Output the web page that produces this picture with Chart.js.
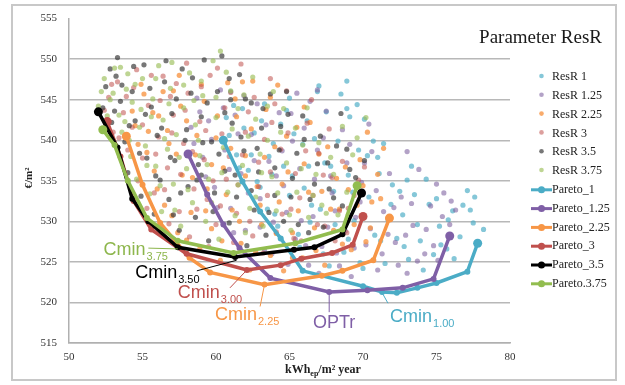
<!DOCTYPE html>
<html>
<head>
<meta charset="utf-8">
<script src="https://cdn.jsdelivr.net/npm/chart.js@4.4.0/dist/chart.umd.min.js"></script>
<style>
  html, body { margin: 0; padding: 0; background: #fff; }
</style>
</head>
<body>
<canvas id="chart" width="625" height="385"></canvas>
<script>
// axis ticks
const xTicks = [50, 55, 60, 65, 70, 75, 80];
const yTicks = [515, 520, 525, 530, 535, 540, 545, 550, 555];

// scatter clouds, [kWh_ep/m2 year, EUR/m2]
const resR1 = [[60.7,542.8],[61.0,546.0],[61.4,538.2],[61.8,543.9],[62.2,536.3],[62.6,540.9],[63.0,534.2],[63.3,544.5],[63.6,538.0],[64.0,530.9],[64.4,542.0],[64.8,543.7],[65.0,545.2],[65.2,535.6],[65.6,528.4],[65.9,539.5],[66.2,542.4],[66.5,532.0],[66.9,546.0],[67.0,546.7],[67.3,526.0],[67.5,543.5],[67.8,536.8],[68.1,529.6],[68.5,545.7],[68.9,547.3],[68.9,543.9],[69.1,542.9],[69.3,533.6],[69.6,544.4],[69.8,524.9],[70.1,542.6],[70.3,538.1],[70.7,539.9],[71.0,537.9],[71.4,539.6],[71.7,530.2],[72.0,534.5],[72.5,533.7],[72.8,526.9],[73.0,535.1],[73.3,536.8],[73.7,529.6],[74.1,524.0],[74.5,532.1],[75.0,532.8],[75.3,527.1],[75.8,530.2],[76.2,525.4],[76.8,532.0],[77.1,533.8],[77.5,529.8],[78.2,529.0],[71.2,527.6],[69.0,527.8],[66.3,536.8],[63.8,535.8],
  [60.9,540.6],[61.2,544.3],[61.6,536.6],[61.9,541.5],[62.4,538.2],[62.8,534.9],[63.1,542.4],[63.5,531.5],[63.9,539.6],[64.2,529.4],[64.6,536.8],[65.0,533.2],[65.3,540.8],[65.7,526.8],[66.0,534.1],[66.4,529.9],[66.7,540.2],[67.1,531.5],[67.4,537.2],[67.7,524.5],[68.0,533.7],[68.3,539.9],[68.7,526.2],[69.0,535.7],[69.4,530.1],[69.7,538.8],[70.0,524.2],[70.4,533.0],[70.8,528.3],[71.1,535.9],[71.5,524.8],[71.9,532.1],[72.3,527.9],[72.7,530.8],[73.1,525.3],[73.5,533.3],[73.9,527.6],[74.3,535.2],[74.8,525.9],[75.2,529.4],[75.7,526.6],[76.1,531.3],[76.6,528.1],[77.3,531.4],[77.6,533.0]];
const resR125 = [[58.3,541.6],[58.7,545.2],[59.1,537.9],[59.5,542.4],[59.9,534.2],[60.3,546.2],[60.6,538.8],[61.0,531.6],[61.3,543.1],[61.7,535.9],[62.0,528.9],[62.4,540.7],[62.8,544.5],[63.0,532.8],[63.3,526.5],[63.6,537.4],[63.9,529.9],[64.3,543.4],[64.6,534.4],[64.9,524.7],[65.2,539.9],[65.5,545.8],[65.8,530.1],[66.1,527.0],[66.4,544.8],[66.7,535.2],[67.0,523.6],[67.3,540.3],[67.6,529.3],[67.9,533.5],[68.2,526.1],[68.6,541.3],[68.9,537.2],[69.2,523.2],[69.5,530.5],[69.9,534.8],[70.2,527.1],[70.6,538.6],[71.0,524.0],[71.4,531.2],[71.8,535.9],[72.2,527.4],[72.6,533.0],[73.0,523.6],[73.4,529.5],[73.8,536.4],[74.2,526.0],[74.6,531.9],[75.1,525.2],[75.5,533.5],[75.9,529.6],[76.3,531.4],[73.0,538.6],[70.4,542.0],[66.9,546.2],
  [58.5,539.6],[58.9,543.5],[59.3,535.5],[59.7,540.1],[60.1,531.7],[60.5,544.0],[60.9,536.4],[61.2,528.6],[61.5,540.8],[61.9,545.5],[62.2,533.5],[62.6,537.5],[63.0,529.3],[63.4,541.9],[63.8,526.0],[64.1,535.6],[64.5,538.7],[64.8,531.1],[65.1,543.3],[65.4,527.8],[65.7,536.5],[66.0,541.5],[66.3,524.6],[66.6,530.6],[66.9,538.8],[67.2,526.9],[67.5,543.6],[67.8,535.6],[68.1,531.3],[68.4,524.5],[68.8,528.8],[69.1,539.5],[69.4,526.7],[69.8,532.4],[70.1,537.2],[70.5,529.1],[70.9,533.8],[71.3,526.0],[71.7,528.4],[72.1,531.7],[72.4,524.6],[72.9,528.3],[73.3,532.2],[73.7,525.1],[74.3,529.0],[74.8,527.0],[75.4,530.6],[75.0,534.6],[76.0,532.5]];
const resR225 = [[54.3,543.6],[54.7,539.5],[55.1,545.7],[55.4,541.1],[55.8,536.2],[56.1,543.0],[56.5,532.0],[56.8,539.6],[57.1,546.1],[57.4,528.6],[57.7,535.7],[58.0,542.4],[58.3,531.1],[58.6,538.2],[58.9,526.6],[59.2,544.8],[59.4,534.0],[59.7,529.1],[60.0,540.3],[60.3,525.2],[60.5,536.6],[60.8,547.1],[61.1,531.4],[61.4,542.9],[61.7,527.3],[62.0,538.1],[62.3,524.0],[62.5,547.3],[62.8,534.3],[63.1,529.6],[63.4,543.8],[63.7,525.8],[64.0,539.2],[64.3,532.4],[64.6,523.9],[64.9,536.1],[65.2,528.6],[65.5,541.6],[65.9,525.5],[66.3,533.6],[66.7,529.2],[67.0,538.3],[67.4,524.6],[67.8,531.5],[68.2,535.3],[68.6,527.2],[69.0,533.9],[69.4,529.6],[69.8,537.6],[70.2,527.5],[70.6,532.4],[71.0,535.8],[71.4,539.0],[70.3,541.0],[66.0,544.1],[57.5,548.0],
  [54.5,541.8],[54.9,546.9],[55.3,538.5],[55.7,543.4],[56.0,534.0],[56.4,546.0],[56.7,541.2],[57.0,530.7],[57.3,538.3],[57.6,544.2],[58.0,527.7],[58.4,535.4],[58.7,540.6],[59.0,546.9],[59.3,531.3],[59.7,537.0],[60.1,543.0],[60.4,527.6],[60.7,533.3],[61.0,539.0],[61.3,545.1],[61.6,530.0],[62.0,535.6],[62.4,541.4],[62.7,526.2],[63.0,532.0],[63.3,537.9],[63.7,545.3],[64.1,528.5],[64.5,534.6],[64.8,540.5],[65.2,525.5],[65.6,531.3],[66.0,537.1],[66.4,542.2],[66.8,526.4],[67.2,533.7],[67.6,539.2],[68.0,528.9],[68.4,531.5],[68.8,536.7],[69.2,526.5],[69.6,532.0],[70.0,534.4],[70.5,529.2],[71.2,532.8],[61.8,547.2],[64.2,546.8]];
const resR3 = [[52.7,545.3],[53.0,541.0],[53.3,547.2],[53.7,543.4],[54.0,538.8],[54.4,546.5],[54.7,535.0],[55.0,541.9],[55.3,531.6],[55.6,548.0],[55.9,538.3],[56.2,544.9],[56.5,533.9],[56.8,529.7],[57.0,540.9],[57.3,547.0],[57.6,535.8],[57.9,543.7],[58.2,528.1],[58.4,538.6],[58.7,531.5],[59.0,546.6],[59.3,541.2],[59.5,526.9],[59.8,535.0],[60.1,548.9],[60.3,531.9],[60.6,544.0],[60.9,538.0],[61.2,527.4],[61.5,534.5],[61.7,549.4],[62.0,541.0],[62.3,530.0],[62.6,545.3],[62.9,537.3],[63.2,526.1],[63.5,533.2],[63.8,542.2],[64.1,528.7],[64.4,538.9],[64.8,546.1],[65.1,531.5],[65.4,535.9],[65.8,527.6],[66.2,542.1],[66.6,533.2],[67.0,538.4],[67.4,529.4],[67.9,535.4],[68.4,531.3],[68.9,528.6],[69.4,533.2],[70.1,536.7],[58.0,549.5],[63.7,547.6],
  [52.4,543.7],[52.9,546.9],[53.4,540.3],[53.9,545.4],[54.3,541.6],[54.6,548.7],[55.0,537.8],[55.4,544.3],[55.8,533.5],[56.1,540.4],[56.4,547.9],[56.7,536.6],[57.1,543.1],[57.5,531.2],[57.8,539.6],[58.1,545.8],[58.5,534.0],[58.9,542.3],[59.2,537.6],[59.6,548.0],[60.0,529.6],[60.4,540.8],[60.7,535.2],[61.0,545.9],[61.4,531.0],[61.8,538.2],[62.2,543.5],[62.5,528.2],[62.9,534.3],[63.3,540.1],[63.7,536.1],[64.0,544.5],[64.5,530.9],[64.9,540.9],[65.3,527.9],[65.7,532.9],[66.1,538.7],[66.5,545.0],[66.9,529.6],[67.3,535.7],[67.7,541.4],[68.1,527.6],[68.6,537.4],[69.0,531.6],[69.7,535.1],[59.4,532.7],[56.9,545.4]];
const resR35 = [[52.5,546.6],[52.9,542.2],[53.2,547.9],[53.5,544.8],[53.8,539.8],[54.0,536.0],[54.3,546.0],[54.5,542.4],[54.9,533.1],[55.1,549.3],[55.3,537.8],[55.6,544.1],[55.8,530.9],[56.0,540.6],[56.2,535.1],[56.5,547.2],[56.8,532.7],[57.0,543.3],[57.2,537.5],[57.5,528.9],[57.7,548.8],[57.9,540.0],[58.1,534.3],[58.3,545.8],[58.6,530.5],[58.8,537.0],[59.0,542.9],[59.2,549.9],[59.5,527.6],[59.7,539.8],[59.9,533.5],[60.1,546.0],[60.4,550.4],[60.6,536.2],[60.9,529.8],[61.1,542.1],[61.4,533.0],[61.6,548.1],[61.9,538.7],[62.1,527.0],[62.4,544.6],[62.6,531.4],[62.9,536.1],[63.1,541.5],[63.4,528.3],[63.7,545.7],[64.0,533.2],[64.3,538.8],[64.6,530.0],[64.9,543.2],[65.2,535.3],[65.6,529.6],[66.0,540.1],[66.4,532.7],[66.9,537.1],[67.3,529.3],[67.7,534.0],[68.2,539.3],[68.6,531.9],[69.1,536.4],[53.3,550.2],[61.0,545.0],
  [52.3,544.0],[52.8,548.8],[53.1,543.6],[53.6,546.8],[54.1,541.8],[54.4,549.1],[54.8,538.4],[55.2,543.2],[55.5,546.4],[55.9,535.6],[56.3,541.5],[56.6,549.8],[56.9,537.9],[57.3,545.1],[57.6,533.5],[58.0,541.3],[58.4,547.7],[58.7,535.1],[59.1,539.7],[59.4,544.6],[59.8,531.2],[60.2,538.3],[60.6,543.4],[60.9,547.6],[61.3,535.7],[61.7,540.4],[62.0,545.1],[62.4,533.8],[62.8,539.0],[63.2,543.9],[63.6,531.1],[64.0,536.6],[64.4,541.7],[64.8,546.0],[65.1,533.0],[65.5,538.4],[65.9,543.0],[66.3,528.6],[66.7,534.6],[67.1,540.5],[67.6,537.2],[68.0,532.9],[68.5,543.3],[68.9,538.9],[69.5,535.4],[70.1,537.5],[59.0,535.7],[57.1,530.8]];
const resR375 = [[52.0,544.2],[52.4,547.6],[52.8,545.0],[53.1,548.9],[53.4,543.1],[53.6,541.0],[53.9,546.3],[54.2,538.0],[54.3,544.7],[54.6,535.2],[54.8,541.6],[55.0,547.6],[55.2,539.3],[55.5,533.4],[55.7,545.1],[55.9,536.8],[56.1,549.2],[56.3,531.2],[56.4,542.5],[56.7,538.9],[56.9,546.4],[57.1,534.6],[57.3,540.7],[57.6,529.4],[57.8,544.0],[58.0,536.5],[58.2,548.3],[58.4,532.3],[58.6,541.9],[58.9,538.1],[59.1,545.5],[59.3,530.0],[59.5,535.2],[59.8,549.8],[60.0,542.8],[60.2,527.8],[60.3,551.0],[60.5,539.1],[60.8,533.6],[61.0,546.1],[61.3,530.7],[61.5,543.9],[61.8,536.9],[62.0,528.6],[62.2,540.5],[62.5,547.8],[62.7,533.0],[63.0,538.3],[63.2,529.4],[63.5,544.2],[63.8,535.5],[64.1,531.3],[64.4,541.0],[64.8,537.2],[65.1,528.9],[65.5,533.6],[65.9,539.4],[66.3,530.5],[66.8,535.8],[67.2,532.0],[67.8,537.9],[68.3,530.8],[68.9,533.6],[69.3,538.2],[57.0,549.6],[54.0,548.2],
  [52.2,546.0],[52.6,543.0],[53.0,545.8],[53.5,549.0],[53.8,542.3],[54.1,540.0],[54.5,546.9],[54.9,543.8],[55.3,536.9],[55.6,542.9],[55.9,547.6],[56.2,534.4],[56.5,540.2],[56.8,544.5],[57.2,531.4],[57.5,537.9],[57.8,546.8],[58.1,533.9],[58.5,544.9],[58.8,540.0],[59.0,547.3],[59.4,537.0],[59.7,532.3],[60.0,545.3],[60.4,536.0],[60.7,548.4],[61.1,541.4],[61.5,534.5],[61.9,545.6],[62.3,531.6],[62.7,542.6],[63.1,536.0],[63.5,540.0],[63.9,546.0],[64.2,533.5],[64.6,543.9],[65.0,530.8],[65.4,541.5],[65.8,536.5],[66.2,544.0],[66.6,533.2],[67.0,539.7],[67.5,531.0],[68.0,535.8],[68.6,541.7],[69.0,530.8],[69.6,540.3],[70.2,542.8]];

// pareto fronts
const pareto1 = [[60.5,540.0],[61.8,534.9],[63.0,531.2],[64.4,527.9],[65.9,523.9],[70.0,522.0],[71.3,521.3],[72.3,521.2],[73.7,521.8],[75.0,522.4],[77.1,523.8],[77.8,527.3]];
const pareto125 = [[58.1,538.3],[59.4,533.3],[60.5,529.6],[61.6,526.7],[63.7,523.0],[67.7,521.3],[70.3,521.5],[72.7,521.8],[74.8,522.9],[75.9,528.2]];
const pareto225 = [[53.9,540.5],[55.0,534.5],[56.2,529.8],[58.2,525.5],[59.6,523.7],[63.3,522.2],[67.2,523.3],[68.6,523.9],[70.7,525.2],[71.8,530.4]];
const pareto3 = [[52.6,542.3],[53.5,538.0],[54.4,532.5],[55.6,529.0],[58.0,526.0],[62.1,524.0],[64.4,524.6],[65.8,525.4],[67.9,526.1],[69.3,527.1],[70.0,530.6]];
const pareto35 = [[52.0,543.5],[53.3,539.1],[54.3,532.8],[55.4,530.0],[57.4,526.8],[61.3,525.6],[65.3,526.5],[66.7,526.8],[68.6,528.4],[69.9,533.5]];
const pareto375 = [[52.3,541.3],[53.1,539.4],[54.0,535.0],[55.3,530.4],[57.4,527.6],[61.2,526.1],[65.4,527.3],[68.6,529.0],[69.6,534.4]];

const cloudNames = ['ResR 1', 'ResR 1.25', 'ResR 2.25', 'ResR 3', 'ResR 3.5', 'ResR 3.75'];
const cloudData = [resR1, resR125, resR225, resR3, resR35, resR375];
const cloudColors = ['rgba(75,172,198,0.68)', 'rgba(128,100,162,0.6)', 'rgba(247,150,70,0.8)',
  'rgba(192,80,77,0.55)', 'rgba(55,55,55,0.68)', 'rgba(155,190,89,0.65)'];

const paretoNames = ['Pareto_1', 'Pareto_1.25', 'Pareto_2.25', 'Pareto_3', 'Pareto_3.5', 'Pareto.3.75'];
const paretoData = [pareto1, pareto125, pareto225, pareto3, pareto35, pareto375];
const paretoColors = ['#4bacc6', '#7f5fa6', '#f79646', '#c0504d', '#000000', '#92bd4f'];

// callouts: text anchor and leader line, in data units
const notes = [
  { main: 'Cmin', sub: '3.75', color: '#8db64c', at: [52.35, 525.85], line: [55.4, 526.7, 57.4, 526.6] },
  { main: 'Cmin', sub: '3.50', color: '#000000', at: [54.5, 523.05], line: [58.7, 523.9, 61.4, 525.2] },
  { main: 'Cmin', sub: '3.00', color: '#c0504d', at: [57.4, 520.5], line: [60.95, 521.8, 62.1, 524.0] },
  { main: 'Cmin', sub: '2.25', color: '#f79646', at: [59.93, 517.8], line: [63.0, 519.5, 63.3, 522.2] },
  { main: 'OPTr', sub: '', color: '#7f5fa6', at: [66.6, 516.85], line: [67.7, 518.8, 67.7, 521.3] },
  { main: 'Cmin', sub: '1.00', color: '#4bacc6', at: [71.84, 517.56], line: [71.7, 519.9, 71.3, 521.2] }
];

const datasets = [];
cloudNames.forEach((name, i) => {
  datasets.push({
    label: name,
    data: cloudData[i],
    backgroundColor: cloudColors[i],
    borderWidth: 0,
    pointRadius: 2.6,
    order: 20 - i
  });
});
paretoNames.forEach((name, i) => {
  datasets.push({
    label: name,
    data: paretoData[i],
    showLine: true,
    borderColor: paretoColors[i],
    backgroundColor: paretoColors[i],
    borderWidth: 3.5,
    pointRadius: c => (c.dataIndex === 0 || c.dataIndex === paretoData[i].length - 1) ? 4.5 : 3,
    pointBorderWidth: 0,
    order: 10 - i
  });
});

const serif = '"Liberation Serif", "DejaVu Serif", serif';
const sans = '"Liberation Sans", Arial, sans-serif';

const decor = {
  id: 'decor',
  beforeDraw(chart) {
    const ctx = chart.ctx;
    ctx.save();
    ctx.fillStyle = '#fff';
    ctx.fillRect(0, 0, chart.width, chart.height);
    ctx.restore();
  },
  afterDatasetsDraw(chart) {
    const { ctx, scales: { x, y } } = chart;
    notes.forEach(n => {
      ctx.save();
      ctx.strokeStyle = n.color;
      ctx.lineWidth = 1;
      ctx.beginPath();
      ctx.moveTo(x.getPixelForValue(n.line[0]), y.getPixelForValue(n.line[1]));
      ctx.lineTo(x.getPixelForValue(n.line[2]), y.getPixelForValue(n.line[3]));
      ctx.stroke();
      const tx = x.getPixelForValue(n.at[0]);
      const ty = y.getPixelForValue(n.at[1]);
      ctx.fillStyle = n.color;
      ctx.textBaseline = 'alphabetic';
      ctx.font = '18px ' + sans;
      ctx.fillText(n.main, tx, ty);
      if (n.sub) {
        const w = ctx.measureText(n.main).width;
        ctx.font = '11px ' + sans;
        ctx.fillText(n.sub, tx + w + 1, ty + 5);
      }
      ctx.restore();
    });
  },
  afterDraw(chart) {
    const ctx = chart.ctx;
    ctx.save();
    // outer frame
    ctx.strokeStyle = '#c8c8c8';
    ctx.lineWidth = 2;
    ctx.strokeRect(12, 5, 604, 375);

    // title
    ctx.fillStyle = '#1a1a1a';
    ctx.font = '19px ' + serif;
    ctx.textAlign = 'right';
    ctx.textBaseline = 'alphabetic';
    ctx.fillText('Parameter ResR', 602, 43);

    // legend
    ctx.textAlign = 'left';
    ctx.textBaseline = 'middle';
    ctx.font = '12px ' + serif;
    chart.data.datasets.forEach((ds, i) => {
      const ly = 77 + i * 18.8;
      if (ds.showLine) {
        ctx.strokeStyle = ds.borderColor;
        ctx.lineWidth = 3;
        ctx.beginPath();
        ctx.moveTo(531, ly);
        ctx.lineTo(552, ly);
        ctx.stroke();
        ctx.fillStyle = ds.borderColor;
        ctx.beginPath();
        ctx.arc(541.5, ly, 3.5, 0, Math.PI * 2);
        ctx.fill();
      } else {
        ctx.fillStyle = ds.backgroundColor;
        ctx.beginPath();
        ctx.arc(541.5, ly - 1, 2.3, 0, Math.PI * 2);
        ctx.fill();
      }
      ctx.fillStyle = '#222';
      ctx.fillText(ds.label, 552, ly);
    });

    // x axis title with subscript
    ctx.textBaseline = 'alphabetic';
    ctx.fillStyle = '#222';
    let px = 285;
    ctx.font = 'bold 12px ' + serif;
    ctx.fillText('kWh', px, 373);
    px += ctx.measureText('kWh').width;
    ctx.font = 'bold 8px ' + serif;
    ctx.fillText('ep', px, 376);
    px += ctx.measureText('ep').width;
    ctx.font = 'bold 12px ' + serif;
    ctx.fillText('/m\u00b2 year', px, 373);

    // y axis title
    ctx.translate(29, 178);
    ctx.rotate(-Math.PI / 2);
    ctx.textAlign = 'center';
    ctx.textBaseline = 'middle';
    ctx.font = 'bold 11px ' + serif;
    ctx.fillText('\u20ac/m\u00b2', 0, 0);
    ctx.restore();
  }
};

new Chart(document.getElementById('chart'), {
  type: 'scatter',
  data: { datasets },
  plugins: [decor],
  options: {
    responsive: false,
    animation: false,
    layout: { padding: { left: 14, right: 115, top: 18, bottom: 0 } },
    plugins: {
      legend: { display: false },
      tooltip: { enabled: false }
    },
    scales: {
      x: {
        type: 'linear',
        min: xTicks[0],
        max: xTicks[xTicks.length - 1],
        afterBuildTicks: s => { s.ticks = xTicks.map(v => ({ value: v })); },
        afterFit: s => { s.height = 42; },
        grid: { display: false, drawTicks: false },
        border: { color: '#b0b0b0', width: 1.5 },
        ticks: { padding: 8, color: '#333', font: { family: serif, size: 11 } }
      },
      y: {
        type: 'linear',
        min: yTicks[0],
        max: yTicks[yTicks.length - 1],
        afterBuildTicks: s => { s.ticks = yTicks.map(v => ({ value: v })); },
        afterFit: s => { s.width = 55; },
        grid: {
          drawTicks: false,
          lineWidth: 1.5,
          color: c => (c.tick && c.tick.value === yTicks[yTicks.length - 1]) ? 'rgba(0,0,0,0)' : '#b8b8b8'
        },
        border: { color: '#b0b0b0', width: 1.5 },
        ticks: { padding: 12, color: '#333', font: { family: serif, size: 11 } }
      }
    }
  }
});
</script>
</body>
</html>
